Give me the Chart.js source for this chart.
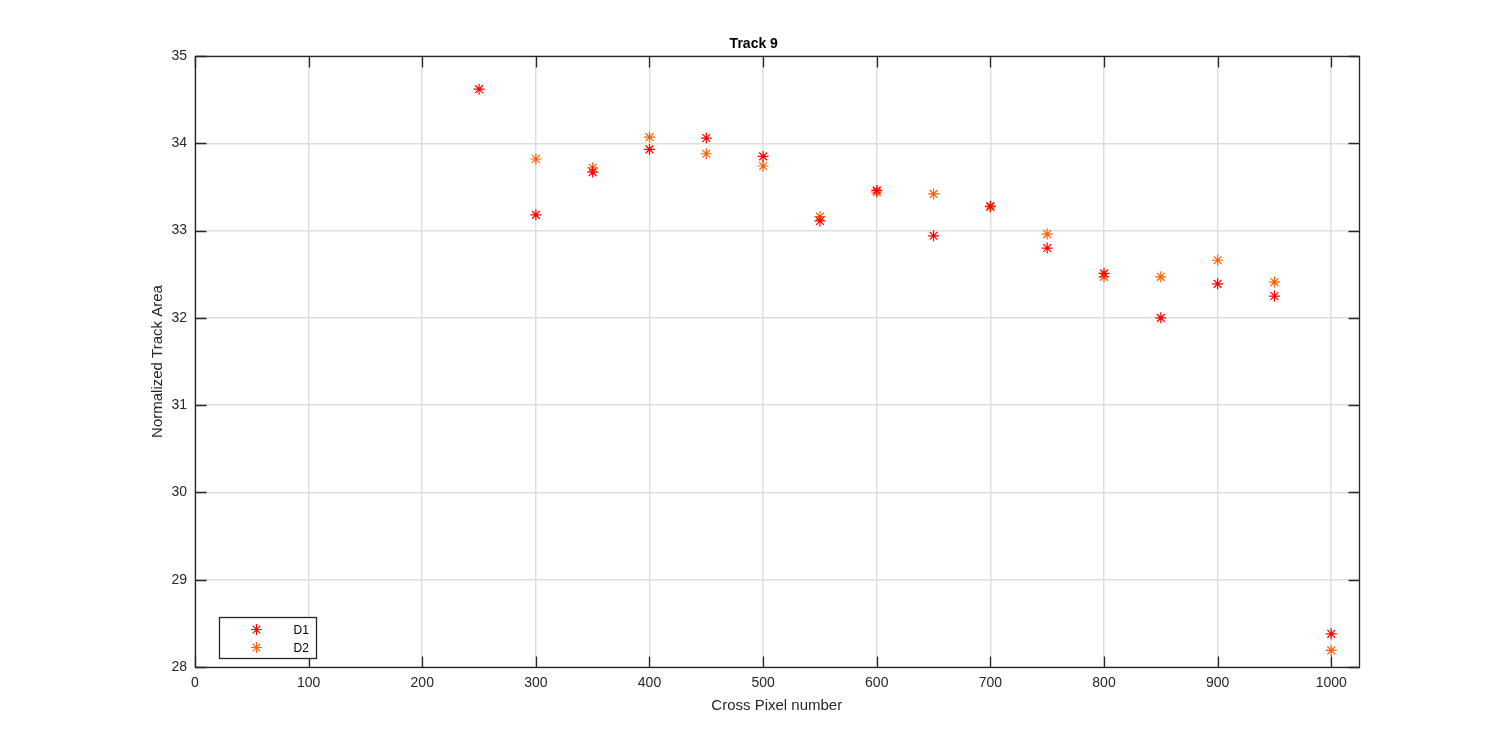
<!DOCTYPE html>
<html>
<head>
<meta charset="utf-8">
<script src="https://cdn.jsdelivr.net/npm/chart.js@4/dist/chart.umd.min.js"></script>
<style>
  html, body { margin: 0; padding: 0; background: #fff; }
  #wrap { width: 1500px; height: 750px; }
</style>
</head>
<body>
<div id="wrap"><canvas id="plot" width="1500" height="750"></canvas></div>
<script>
// values
const crossPixels = [250, 300, 350, 400, 450, 500, 550, 600, 650, 700, 750, 800, 850, 900, 950, 1000];
const d1Area = [34.62, 33.18, 33.67, 33.93, 34.06, 33.85, 33.11, 33.46, 32.94, 33.28, 32.80, 32.51, 32.00, 32.39, 32.25, 28.38];
const d2Area = [null, 33.82, 33.72, 34.07, 33.88, 33.74, 33.16, 33.44, 33.42, 33.27, 32.96, 32.47, 32.47, 32.66, 32.41, 28.19];
const seriesNames = ["D1", "D2"];
const seriesColors = ["#ff0000", "#ff6000"];

const axisColor = "#262626";
const tickLen = 11;
const markerRadius = 5.5;
const markerWidth = 1.2;

function toPoints(ys) {
  return crossPixels
    .map((x, i) => ({ x: x, y: ys[i] }))
    .filter((p) => p.y != null);
}

// inward tick marks on all four sides plus the axes box
const boxTicksPlugin = {
  id: "boxTicks",
  afterDraw(chart) {
    const { ctx, chartArea: a } = chart;
    const xs = chart.scales.x;
    const ys = chart.scales.y;
    const left = Math.round(a.left) + 0.5;
    const right = Math.round(a.right) + 0.5;
    const top = Math.round(a.top) + 0.5;
    const bottom = Math.round(a.bottom) + 0.5;
    ctx.save();
    ctx.strokeStyle = axisColor;
    ctx.lineWidth = 1.3;
    ctx.beginPath();
    xs.ticks.forEach((t) => {
      const px = Math.round(xs.getPixelForValue(t.value)) + 0.5;
      ctx.moveTo(px, bottom);
      ctx.lineTo(px, bottom - tickLen);
      ctx.moveTo(px, top);
      ctx.lineTo(px, top + tickLen);
    });
    ys.ticks.forEach((t) => {
      const py = Math.round(ys.getPixelForValue(t.value)) + 0.5;
      ctx.moveTo(left, py);
      ctx.lineTo(left + tickLen, py);
      ctx.moveTo(right, py);
      ctx.lineTo(right - tickLen, py);
    });
    ctx.stroke();
    ctx.strokeRect(left, top, right - left, bottom - top);
    ctx.restore();
  },
};

// matlab style legend box in the lower left corner
const boxLegendPlugin = {
  id: "boxLegend",
  afterDraw(chart) {
    const { ctx, chartArea: a } = chart;
    const bx = a.left + 24.5;
    const by = a.bottom - 49.5;
    const bw = 97;
    const bh = 41;
    ctx.save();
    ctx.fillStyle = "#ffffff";
    ctx.fillRect(bx, by, bw, bh);
    ctx.strokeStyle = axisColor;
    ctx.lineWidth = 1.3;
    ctx.strokeRect(bx, by, bw, bh);
    ctx.font = "12px 'Liberation Sans', Arial, sans-serif";
    ctx.textBaseline = "middle";
    chart.data.datasets.forEach((ds, i) => {
      const cy = by + 12 + i * 18;
      ctx.strokeStyle = ds.borderColor;
      ctx.fillStyle = ds.borderColor;
      ctx.lineWidth = markerWidth;
      Chart.helpers.drawPoint(ctx, {
        pointStyle: "star",
        radius: markerRadius,
        borderWidth: markerWidth,
        rotation: 0,
      }, bx + 37, cy);
      ctx.fillStyle = "#000000";
      ctx.fillText(ds.label, bx + 74, cy + 1);
    });
    ctx.restore();
  },
};

const datasets = seriesNames.map((name, i) => ({
  label: name,
  data: toPoints(i === 0 ? d1Area : d2Area),
  pointStyle: "star",
  pointRadius: markerRadius,
  pointHoverRadius: markerRadius,
  borderWidth: markerWidth,
  borderColor: seriesColors[i],
  backgroundColor: seriesColors[i],
  showLine: false,
}));

const tickFont = { family: "'Liberation Sans', Arial, sans-serif", size: 14 };
const labelFont = { family: "'Liberation Sans', Arial, sans-serif", size: 15 };

new Chart(document.getElementById("plot").getContext("2d"), {
  type: "scatter",
  data: { datasets: datasets },
  options: {
    responsive: false,
    animation: false,
    events: [],
    layout: { padding: { left: 149, right: 141.5, top: 0, bottom: 35 } },
    plugins: {
      legend: { display: false },
      tooltip: { enabled: false },
      title: {
        display: true,
        text: "Track 9",
        color: "#000000",
        font: { family: "'Liberation Sans', Arial, sans-serif", size: 14, weight: "bold" },
        padding: { top: 35.6, bottom: 3.6 },
      },
    },
    scales: {
      x: {
        type: "linear",
        min: 0,
        max: 1024,
        afterFit(s) { s.height = 48; },
        ticks: {
          stepSize: 100,
          includeBounds: false,
          color: axisColor,
          font: tickFont,
          padding: 8,
          maxRotation: 0,
          callback(value) { return String(value); },
        },
        grid: { color: "#dedede", lineWidth: 1.5, drawTicks: false },
        border: { display: false },
        title: {
          display: true,
          text: "Cross Pixel number",
          color: axisColor,
          font: labelFont,
          padding: 0,
        },
      },
      y: {
        type: "linear",
        min: 28,
        max: 35,
        afterFit(s) { s.width = 46; },
        ticks: {
          stepSize: 1,
          color: axisColor,
          font: tickFont,
          padding: 8,
        },
        grid: { color: "#dedede", lineWidth: 1.5, drawTicks: false },
        border: { display: false },
        title: {
          display: true,
          text: "Normalized Track Area",
          color: axisColor,
          font: labelFont,
          padding: 0,
        },
      },
    },
  },
  plugins: [boxTicksPlugin, boxLegendPlugin],
});
</script>
</body>
</html>
